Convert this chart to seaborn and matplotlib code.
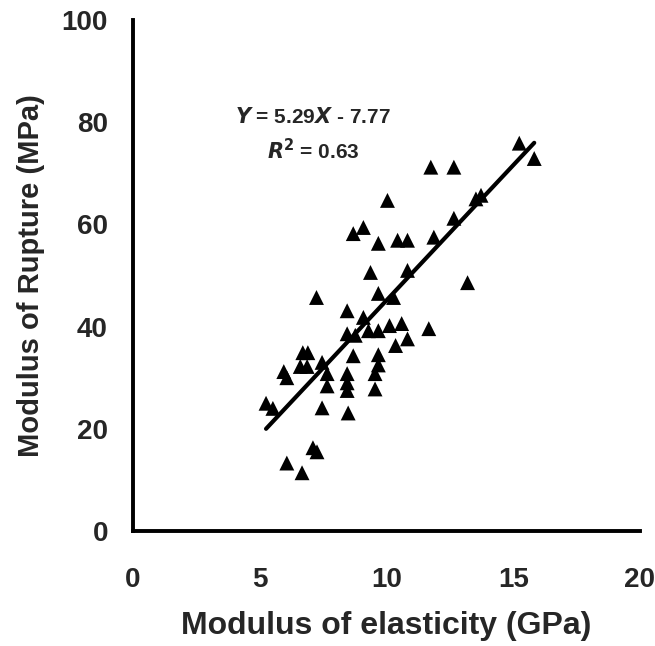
import matplotlib
matplotlib.use("Agg")
import matplotlib.pyplot as plt
import seaborn as sns
import numpy as np
import pandas as pd

# modulus of elasticity (GPa) and modulus of rupture (MPa)
moe = [5.25, 5.52, 5.95, 6.07, 6.07, 6.67, 6.60, 6.87, 6.70, 6.90,
       7.10, 7.26, 7.24, 7.46, 7.66, 7.66, 7.46, 8.49, 8.45, 8.45,
       8.45, 8.45, 8.45, 8.77, 8.69, 8.69, 9.09, 9.09, 9.29, 9.37,
       9.55, 9.55, 9.68, 9.68, 9.68, 9.68, 9.68, 10.04, 10.12, 10.28,
       10.36, 10.44, 10.60, 10.83, 10.83, 10.83, 11.67, 11.75, 11.87, 12.66,
       12.66, 13.20, 13.53, 13.73, 15.24, 15.83]
mor = [25.0, 24.0, 31.2, 30.0, 13.3, 11.4, 32.2, 32.2, 34.9, 34.9,
       16.3, 15.5, 45.7, 33.0, 30.8, 28.4, 24.1, 23.1, 30.8, 29.0,
       27.5, 43.1, 38.6, 38.3, 34.3, 58.2, 59.4, 41.8, 39.2, 50.6,
       30.8, 27.8, 32.5, 34.5, 39.2, 46.5, 56.3, 64.7, 40.2, 45.7,
       36.3, 56.9, 40.6, 56.9, 51.0, 37.6, 39.6, 71.2, 57.5, 71.2,
       61.2, 48.6, 65.0, 65.7, 75.9, 72.9]

slope, intercept = 5.29, -7.77
x_ticks = [0, 5, 10, 15, 20]
y_ticks = [0, 20, 40, 60, 80, 100]

df = pd.DataFrame({"MOE": moe, "MOR": mor})

sns.set_style("white")
plt.rcParams['font.family'] = ['Liberation Sans', 'DejaVu Sans']
plt.rcParams['font.weight'] = 'bold'

fig = plt.figure(figsize=(6.55, 6.46), dpi=100)
ax = fig.add_axes([0.203, 0.178, 0.774, 0.791])

sns.scatterplot(data=df, x="MOE", y="MOR", marker="^", s=115, color="black",
                edgecolor="none", ax=ax, zorder=3)

# fitted line from the reported equation
xl = np.array([min(moe), max(moe)])
ax.plot(xl, slope * xl + intercept, color="black", lw=3, solid_capstyle="round", zorder=2)

ax.text(7.1, 81, r"$\bf{\it{Y}}$ = 5.29$\bf{\it{X}}$ - 7.77", ha="center", va="center",
        fontsize=15, fontweight="bold")
ax.text(7.1, 74.5, r"$\bf{\it{R}}^{\bf{2}}$ = 0.63", ha="center", va="center",
        fontsize=15, fontweight="bold")

ax.set_xlim(0, 20)
ax.set_ylim(0, 100)
ax.set_xticks(x_ticks)
ax.set_yticks(y_ticks)
ax.tick_params(direction="in", length=8, width=2.5, labelsize=20)
ax.tick_params(axis="x", pad=26)
ax.tick_params(axis="y", pad=18)
for lab in ax.get_xticklabels() + ax.get_yticklabels():
    lab.set_fontweight("bold")

for s in ["top", "right"]:
    ax.spines[s].set_visible(False)
for s in ["left", "bottom"]:
    ax.spines[s].set_linewidth(2.8)
    ax.spines[s].set_color("black")

ax.set_xlabel("Modulus of elasticity (GPa)", fontsize=23, fontweight="bold", labelpad=13)
ax.set_ylabel("Modulus of Rupture (MPa)", fontsize=21, fontweight="bold", labelpad=12)

fig.savefig("out.png", dpi=100)
